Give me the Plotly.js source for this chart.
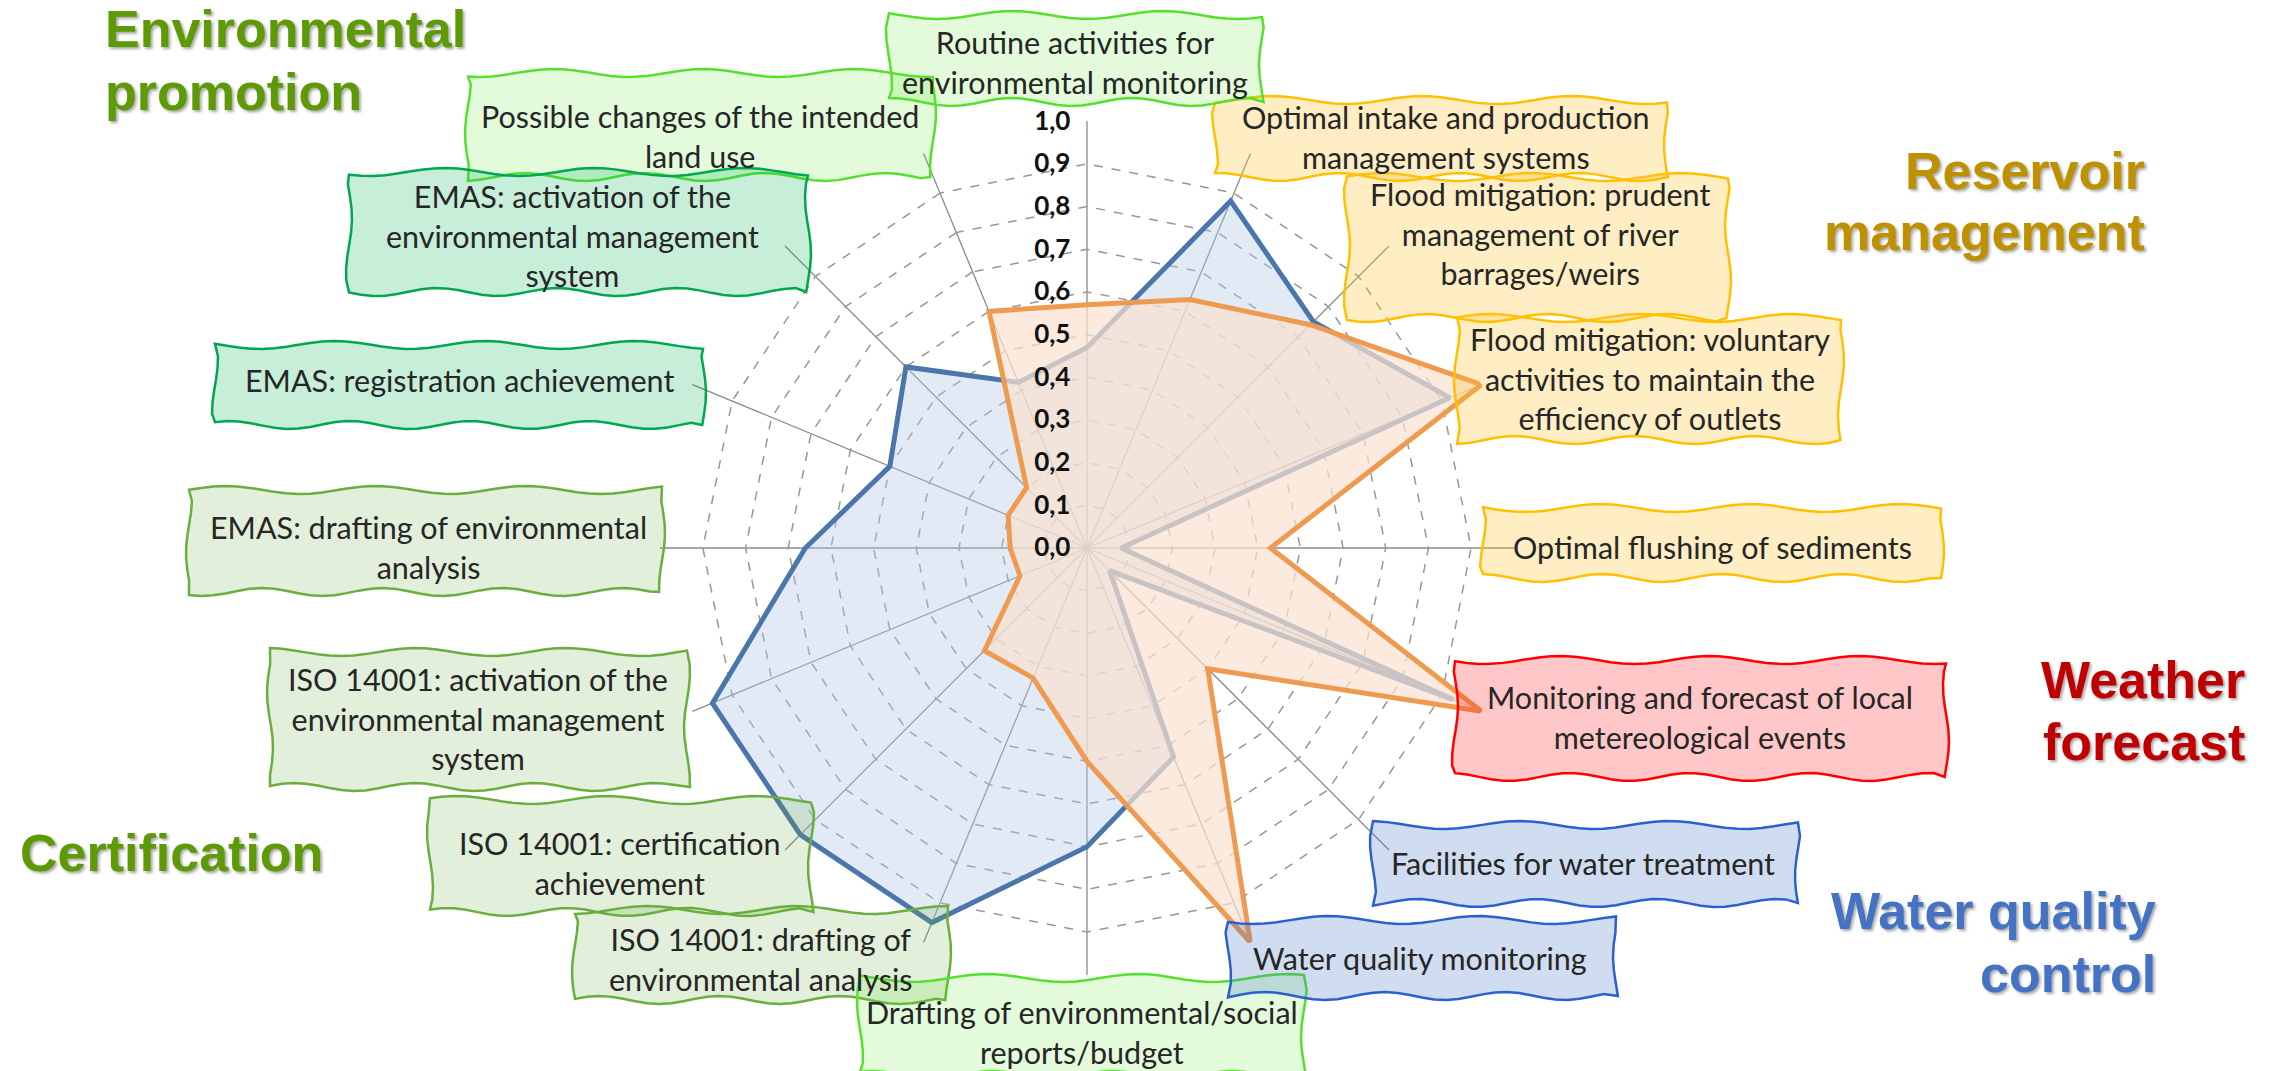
<!DOCTYPE html>
<html>
<head>
<meta charset="utf-8">
<script src="https://cdn.plot.ly/plotly-3.0.1.min.js"></script>
<style>
html,body{margin:0;padding:0;background:#ffffff;}
#chart{width:2277px;height:1071px;}
</style>
</head>
<body>
<div id="chart"></div>
<script>
// ---------------- DATA ----------------
const categories = [
  "Routine activities for environmental monitoring",
  "Optimal intake and production management systems",
  "Flood mitigation: prudent management of river barrages/weirs",
  "Flood mitigation: voluntary activities to maintain the efficiency of outlets",
  "Optimal flushing of sediments",
  "Monitoring and forecast of local metereological events",
  "Facilities for water treatment",
  "Water quality monitoring",
  "Drafting of environmental/social reports/budget",
  "ISO 14001: drafting of environmental analysis",
  "ISO 14001: certification achievement",
  "ISO 14001: activation of the environmental management system",
  "EMAS: drafting of environmental analysis",
  "EMAS: registration achievement",
  "EMAS: activation of the environmental management system",
  "Possible changes of the intended land use"
];
const categoryLabels = [
  "Routine activities for<br>environmental monitoring",
  "Optimal intake and production<br>management systems",
  "Flood mitigation: prudent<br>management of river<br>barrages/weirs",
  "Flood mitigation: voluntary<br>activities to maintain the<br>efficiency of outlets",
  "Optimal flushing of sediments",
  "Monitoring and forecast of local<br>metereological events",
  "Facilities for water treatment",
  "Water quality monitoring",
  "Drafting of environmental/social<br>reports/budget",
  "ISO 14001: drafting of<br>environmental analysis",
  "ISO 14001: certification<br>achievement",
  "ISO 14001: activation of the<br>environmental management<br>system",
  "EMAS: drafting of environmental<br>analysis",
  "EMAS: registration achievement",
  "EMAS: activation of the<br>environmental management<br>system",
  "Possible changes of the intended<br>land use"
];
const categoryGroup = ["lime","orange","orange","orange","orange","red","blue","blue",
                       "lime","olive","olive","olive","olive","mint","mint","lime"];
const seriesBlue   = [0.47, 0.88, 0.75, 0.92, 0.08, 0.93, 0.075, 0.53, 0.70, 0.95, 0.95, 0.95, 0.66, 0.50, 0.60, 0.42];
const seriesOrange = [0.57, 0.63, 0.74, 1.00, 0.43, 1.00, 0.40, 1.00, 0.50, 0.33, 0.34, 0.17, 0.18, 0.20, 0.20, 0.60];
const radialTicks  = [0, 0.1, 0.2, 0.3, 0.4, 0.5, 0.6, 0.7, 0.8, 0.9, 1.0];
const groupTitles  = ["Environmental", "promotion", "Reservoir", "management", "Weather", "forecast",
                      "Water quality", "control", "Certification"];

// ---------------- LAYOUT / STYLE ----------------
const W = 2277, H = 1071;
const px = v => v / W;
const py = v => 1 - v / H;

const groupStyle = {
  lime:   {border: "#55E030", fill: "rgba(90,230,40,0.17)"},
  orange: {border: "#FFC000", fill: "rgba(255,196,60,0.30)"},
  red:    {border: "#FF0000", fill: "rgba(255,0,0,0.22)"},
  blue:   {border: "#2C5FD0", fill: "rgba(68,114,196,0.25)"},
  olive:  {border: "#6AAE3F", fill: "rgba(112,173,71,0.20)"},
  mint:   {border: "#00A651", fill: "rgba(0,176,80,0.22)"}
};
// box rectangles [x0, x1, y0, y1] and text centre [tx, ty] in page pixels, one per category
const boxRects = [
  [889, 1262, 15, 102],
  [1215, 1667, 100, 177],
  [1347, 1728, 177, 318],
  [1457, 1841, 318, 440],
  [1483, 1941, 508, 578],
  [1455, 1946, 660, 777],
  [1373, 1798, 825, 903],
  [1228, 1616, 920, 996],
  [860, 1304, 978, 1075],
  [575, 948, 910, 1000],
  [430, 811, 800, 912],
  [270, 687, 652, 787],
  [189, 662, 490, 592],
  [215, 703, 345, 425],
  [349, 808, 172, 292],
  [468, 933, 73, 177]
];
const textCentres = [
  [1075, 62], [1445, 137], [1540, 233], [1650, 378], [1712, 547], [1700, 717],
  [1583, 863], [1420, 958], [1082, 1032], [760, 959], [620, 863], [478, 719],
  [428, 547], [459, 380], [572, 235], [700, 136]
];
// draw order of boxes (later = on top)
const boxOrder = [15, 14, 13, 12, 11, 10, 9, 8, 7, 6, 5, 4, 3, 2, 1, 0];

const titleStyle = [
  {x: 103,  y: 29,  anchor: "left",  color: "#5E9A06"},
  {x: 103,  y: 92,  anchor: "left",  color: "#5E9A06"},
  {x: 2147, y: 171, anchor: "right", color: "#BF9000"},
  {x: 2147, y: 232, anchor: "right", color: "#BF9000"},
  {x: 2247, y: 680, anchor: "right", color: "#C00000"},
  {x: 2247, y: 742, anchor: "right", color: "#C00000"},
  {x: 2158, y: 911, anchor: "right", color: "#4472C4"},
  {x: 2158, y: 974, anchor: "right", color: "#4472C4"},
  {x: 18,   y: 853, anchor: "left",  color: "#5E9A06"}
];

// hand-drawn looking (wavy) box outline, in paper coordinates
function wavyBox(x0, x1, y0, y1, k) {
  const pts = [];
  const ampH = 4, ampV = 3, lam = 150;
  const ph = k * 1.7;
  const n = Math.max(8, Math.round((x1 - x0) / 12));
  const m = Math.max(5, Math.round((y1 - y0) / 12));
  for (let i = 0; i <= n; i++) { const x = x0 + (x1 - x0) * i / n;
    pts.push([x, y0 + ampH * Math.sin(2 * Math.PI * x / lam + ph)]); }
  for (let j = 1; j <= m; j++) { const y = y0 + (y1 - y0) * j / m;
    pts.push([x1 + ampV * Math.sin(2 * Math.PI * y / 110 + ph + 1), y]); }
  for (let i = n - 1; i >= 0; i--) { const x = x0 + (x1 - x0) * i / n;
    pts.push([x, y1 + ampH * Math.sin(2 * Math.PI * x / (lam * 0.8) + ph + 2)]); }
  for (let j = m - 1; j >= 1; j--) { const y = y0 + (y1 - y0) * j / m;
    pts.push([x0 + ampV * Math.sin(2 * Math.PI * y / 110 + ph + 3), y]); }
  return "M" + pts.map(p => px(p[0]).toFixed(5) + "," + py(p[1]).toFixed(5)).join(" L") + " Z";
}

const closeLoop = arr => arr.concat([arr[0]]);

const traces = [
  {
    type: "scatterpolar",
    r: closeLoop(seriesBlue),
    theta: closeLoop(categories),
    mode: "lines",
    fill: "toself",
    fillcolor: "rgba(180,199,231,0.38)",
    line: {color: "#4A76AC", width: 5},
    hoverinfo: "skip"
  },
  {
    type: "scatterpolar",
    r: closeLoop(seriesOrange),
    theta: closeLoop(categories),
    mode: "lines",
    fill: "toself",
    fillcolor: "rgba(249,226,208,0.72)",
    line: {color: "#EE9A50", width: 5},
    hoverinfo: "skip"
  }
];

const shapes = [];
const annotations = [];
boxOrder.forEach(i => {
  const [x0, x1, y0, y1] = boxRects[i];
  const st = groupStyle[categoryGroup[i]];
  shapes.push({
    type: "path", xref: "paper", yref: "paper", layer: "above",
    path: wavyBox(x0, x1, y0, y1, i),
    fillcolor: st.fill,
    line: {color: st.border, width: 2.5}
  });
});
boxOrder.forEach(i => {
  const [tx, ty] = textCentres[i];
  annotations.push({
    xref: "paper", yref: "paper",
    x: px(tx), y: py(ty),
    xanchor: "center", yanchor: "middle",
    showarrow: false,
    text: categoryLabels[i],
    align: "center",
    font: {family: "Lato, 'Open Sans', sans-serif", size: 30.5, color: "#262626"}
  });
});
groupTitles.forEach((t, i) => {
  const s = titleStyle[i];
  annotations.push({
    xref: "paper", yref: "paper",
    x: px(s.x), y: py(s.y),
    xanchor: s.anchor, yanchor: "middle",
    showarrow: false,
    text: t,
    font: {family: "'Liberation Sans', Arial, sans-serif", size: 52, color: s.color,
           weight: "bold", shadow: "2px 2px 3px rgba(0,0,0,0.35)"}
  });
});

const layout = {
  width: W, height: H,
  margin: {l: 0, r: 0, t: 0, b: 0},
  paper_bgcolor: "#ffffff",
  showlegend: false,
  separators: ", ",
  polar: {
    domain: {x: [px(660), px(1514)], y: [py(975), py(121)]},
    gridshape: "linear",
    bgcolor: "rgba(0,0,0,0)",
    angularaxis: {
      type: "category",
      rotation: 90,
      direction: "clockwise",
      showticklabels: false,
      ticks: "",
      showline: false,
      showgrid: true,
      gridcolor: "#8A8A8A",
      gridwidth: 1.3
    },
    radialaxis: {
      range: [0, 1.0005],
      tickvals: radialTicks,
      tickformat: ".1f",
      angle: 90,
      side: "counterclockwise",
      tickangle: 90,
      showline: false,
      showgrid: true,
      gridcolor: "#979797",
      griddash: "dash",
      gridwidth: 1.5,
      ticks: "outside",
      ticklen: 7,
      tickcolor: "rgba(0,0,0,0)",
      tickfont: {family: "Lato, sans-serif", size: 26, color: "#111111", weight: "bold"}
    }
  },
  shapes: shapes,
  annotations: annotations
};

Plotly.newPlot("chart", traces, layout, {displayModeBar: false, staticPlot: true});
</script>
</body>
</html>
